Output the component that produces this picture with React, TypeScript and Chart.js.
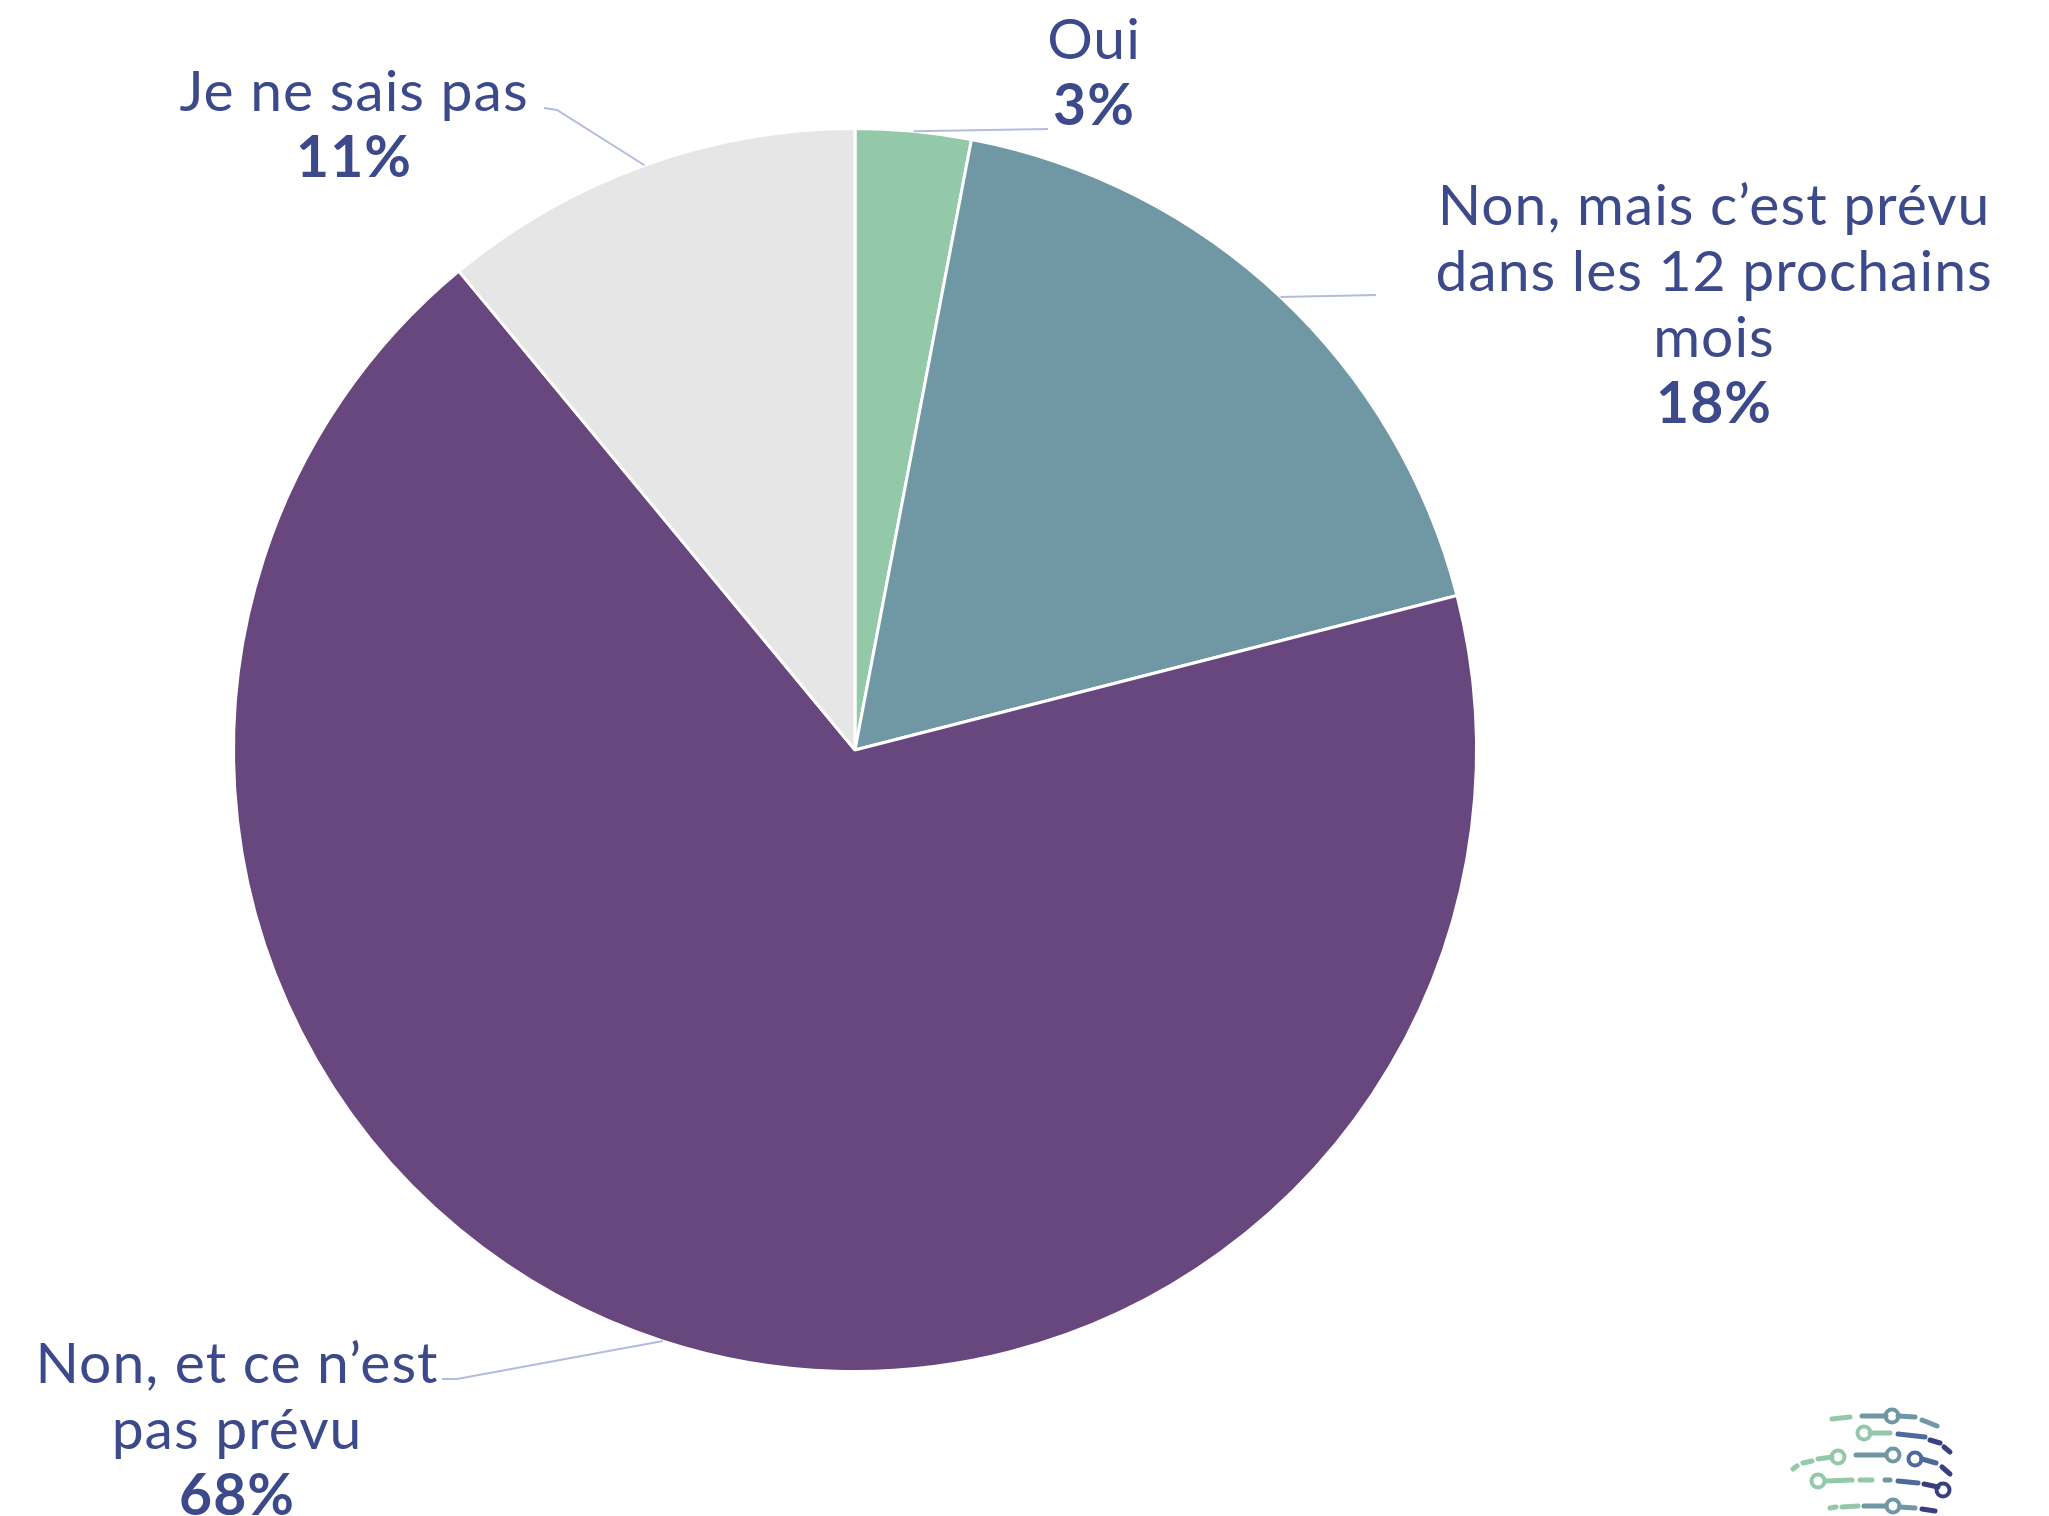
import React, { useEffect, useRef } from "react";
import { Chart, registerables } from "chart.js";

Chart.register(...registerables);

const categories: string[][] = [
  ["Oui"],
  ["Non, mais c\u2019est prévu", "dans les 12 prochains", "mois"],
  ["Non, et ce n\u2019est", "pas prévu"],
  ["Je ne sais pas"],
];
const values: number[] = [3, 18, 68, 11];
const percentLabels: string[] = ["3%", "18%", "68%", "11%"];
const colors: string[] = ["#93C9A8", "#6F98A4", "#68477F", "#E6E6E6"];

const TEXT_COLOR = "#3C4A8C";
const LEADER_COLOR = "#B3BBE0";
const FONT = "Lato, 'Open Sans', sans-serif";
const FONT_SIZE = 57;
const LINE_H = 66;

// label layout: [text centre x, first baseline y, leader elbow x, elbow y, leader end x, end y]
const labelLayout: number[][] = [
  [1094, 59, 1048, 129, 1048, 129],
  [1714, 225, 1376, 295, 1376, 295],
  [237, 1383, 457, 1379, 442, 1379],
  [354, 111, 557, 110, 544, 108],
];

const labelPlugin = {
  id: "pieLabels",
  afterDraw(chart: any) {
    const ctx = chart.ctx;
    const meta = chart.getDatasetMeta(0);
    ctx.save();
    meta.data.forEach((arc: any, i: number) => {
      const mid = (arc.startAngle + arc.endAngle) / 2;
      const sx = arc.x + Math.cos(mid) * arc.outerRadius;
      const sy = arc.y + Math.sin(mid) * arc.outerRadius;
      const [tx, ty, ex, ey, fx, fy] = labelLayout[i];
      ctx.strokeStyle = LEADER_COLOR;
      ctx.lineWidth = 2;
      ctx.beginPath();
      ctx.moveTo(sx, sy);
      ctx.lineTo(ex, ey);
      ctx.lineTo(fx, fy);
      ctx.stroke();
      ctx.fillStyle = TEXT_COLOR;
      ctx.textAlign = "center";
      ctx.textBaseline = "alphabetic";
      (ctx as any).letterSpacing = "1px";
      ctx.font = `400 ${FONT_SIZE}px ${FONT}`;
      const lines = categories[i];
      lines.forEach((l, k) => ctx.fillText(l, tx, ty + k * LINE_H));
      ctx.font = `700 ${FONT_SIZE}px ${FONT}`;
      ctx.fillText(percentLabels[i], tx, ty + lines.length * LINE_H);
    });
    ctx.restore();

    // decorative logo (bottom right)
    const green = "#93C9A8", teal = "#6F98A4", navy = "#3B3F7F", mid = "#4D6A9A";
    const segs: [number, number, number, number, string][] = [
      [1832, 1419, 1850, 1417, green], [1862, 1416, 1886, 1416, teal], [1898, 1416, 1915, 1417, teal], [1922, 1420, 1937, 1426, teal],
      [1870, 1433, 1890, 1433, green], [1898, 1434, 1925, 1437, mid], [1930, 1440, 1940, 1443, navy], [1944, 1447, 1950, 1452, navy],
      [1793, 1469, 1797, 1466, green], [1803, 1463, 1812, 1461, green], [1818, 1459, 1832, 1457, green], [1856, 1455, 1885, 1455, teal], [1922, 1459, 1936, 1463, mid], [1942, 1467, 1950, 1474, navy],
      [1826, 1481, 1852, 1480, green], [1860, 1480, 1872, 1480, green], [1885, 1480, 1890, 1480, teal], [1898, 1481, 1918, 1483, mid], [1924, 1484, 1938, 1487, navy],
      [1830, 1508, 1836, 1507, green], [1842, 1507, 1858, 1506, green], [1864, 1506, 1886, 1506, teal], [1900, 1507, 1915, 1508, teal], [1922, 1509, 1935, 1511, navy],
    ];
    ctx.save();
    ctx.lineCap = "round";
    ctx.lineWidth = 5;
    segs.forEach(([x1, y1, x2, y2, c]) => {
      ctx.strokeStyle = c;
      ctx.beginPath();
      ctx.moveTo(x1, y1);
      ctx.lineTo(x2, y2);
      ctx.stroke();
    });
    const rings: [number, number, string][] = [
      [1892, 1416, teal], [1864, 1433, green], [1838, 1457, green], [1893, 1455, teal], [1915, 1459, mid], [1818, 1481, green], [1943, 1490, navy], [1893, 1506, teal],
    ];
    ctx.lineWidth = 4;
    rings.forEach(([x, y, c]) => {
      ctx.strokeStyle = c;
      ctx.beginPath();
      ctx.arc(x, y, 6.5, 0, Math.PI * 2);
      ctx.stroke();
    });
    ctx.restore();
  },
};

export default function App() {
  const ref = useRef<HTMLCanvasElement | null>(null);
  useEffect(() => {
    document.body.style.margin = "0";
    if (!ref.current) return;
    const chart = new Chart(ref.current, {
      type: "pie",
      data: {
        labels: categories.map((c) => c.join(" ")),
        datasets: [
          {
            data: values,
            backgroundColor: colors,
            borderColor: "#FFFFFF",
            borderWidth: 3,
          },
        ],
      },
      options: {
        responsive: false,
        animation: false,
        layout: { padding: { top: 127, bottom: 143, left: 232, right: 571 } },
        plugins: { legend: { display: false }, tooltip: { enabled: false } },
      },
      plugins: [labelPlugin],
    });
    return () => chart.destroy();
  }, []);
  return (
    <div style={{ position: "absolute", left: 0, top: 0, width: 2049, height: 1516, background: "#FFFFFF" }}>
      <canvas ref={ref} width={2049} height={1516} style={{ width: 2049, height: 1516 }} />
    </div>
  );
}
